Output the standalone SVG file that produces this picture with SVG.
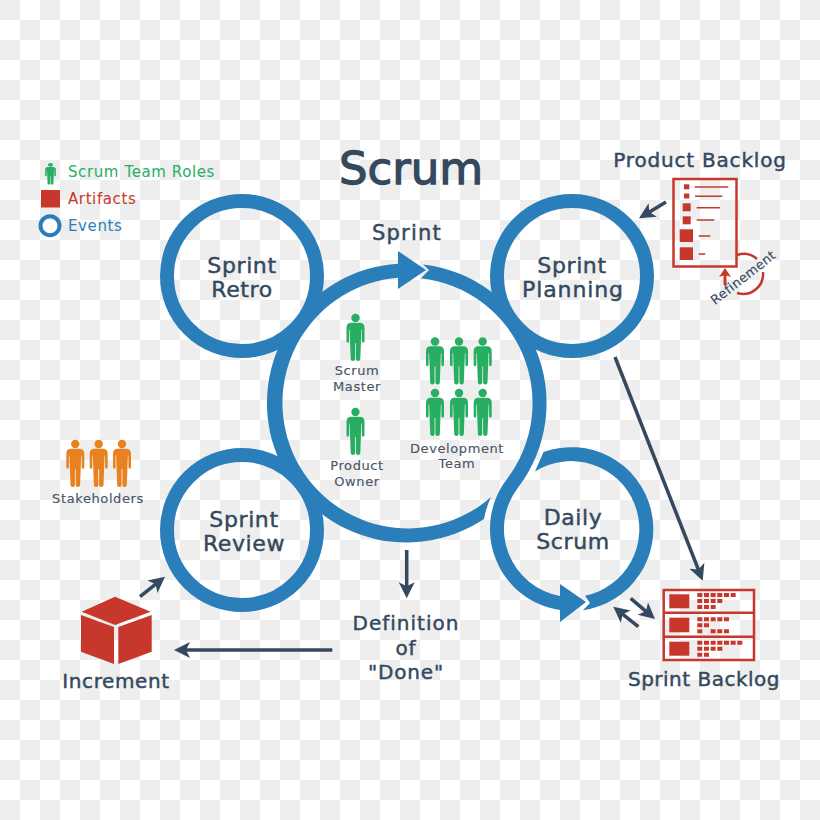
<svg xmlns="http://www.w3.org/2000/svg" width="820" height="820" viewBox="0 0 820 820">
<style>
text{font-family:"DejaVu Sans","Liberation Sans",sans-serif;text-anchor:middle;fill:#34495e;stroke:#34495e;stroke-width:.45px}
.lg{font-size:22px;letter-spacing:.6px}
.md{font-size:20px;letter-spacing:.8px}
.sm{font-size:13px;letter-spacing:.6px;fill:#4a5568;stroke:#4a5568;stroke-width:.15px}
.leg{font-size:15px;text-anchor:start;letter-spacing:.6px;stroke:none}
.ring{fill:none;stroke:#2a7fba;stroke-width:14}
.blue{fill:#2a7fba}
.red{fill:#c8372b}
.rl{stroke:#c8372b;fill:none;stroke-width:2.5}
.sq{stroke:#c8372b;stroke-width:4;stroke-dasharray:5 1.67}
.ar{stroke:#34495e;stroke-width:3.5;fill:none;marker-end:url(#ah)}
.g{fill:#27ae60}
.o{fill:#e8811f}
</style>
<defs>
<pattern id="chk" width="40" height="40" patternUnits="userSpaceOnUse">
<rect width="40" height="40" fill="#fff"/>
<rect width="20" height="20" fill="#eee"/>
<rect x="20" y="20" width="20" height="20" fill="#eee"/>
</pattern>
<marker id="ah" markerUnits="userSpaceOnUse" markerWidth="18" markerHeight="18" refX="11" refY="8" orient="auto" overflow="visible">
<path d="M0,0 L16,8 L0,16 L4,8 Z" fill="#34495e"/>
</marker>
<g id="p">
<circle cx="0" cy="4" r="4.2"/>
<path d="M-5 8.8H5Q9 9 9 14V27Q9 28.8 7.7 28.8Q6.4 28.8 6.4 27V15.5H5.9L4.8 45Q4.8 47 2.6 47Q.4 47 .4 45V29H-.4V45Q-.4 47-2.6 47Q-4.8 47-4.8 45L-5.9 15.5H-6.4V27Q-6.4 28.8-7.7 28.8Q-9 28.8-9 27V14Q-9 9-5 8.8Z"/>
</g>
</defs>
<rect width="820" height="820" fill="url(#chk)"/>
<text x="411" y="184" font-size="45" style="stroke-width:1.3px">Scrum</text>

<g id="legend">
<use href="#p" class="g" transform="translate(50.5,163) scale(.6,.46)"/>
<rect x="41" y="190" width="19" height="17.5" class="red"/>
<circle cx="50" cy="225.7" r="9.5" fill="none" stroke="#2a7fba" stroke-width="4"/>
<text x="68" y="177" class="leg" style="fill:#27ae60">Scrum Team Roles</text>
<text x="68" y="204" class="leg" style="fill:#c8372b">Artifacts</text>
<text x="68" y="231" class="leg" style="fill:#2a7fba">Events</text>
</g>

<g id="sprint">
<path class="blue" d="M491 497A88 88 0 0 0 484 519A139.5 139.5 0 1 1 398 263.8L398 251L426 270L398 289L398 277.8A125.5 125.5 0 1 0 491 497Z"/>
<path class="blue" d="M423 264.4A139.5 139.5 0 0 1 517.9 487.7A68 68 0 0 0 560 595.9L560 584L586 602L560 622L560 610.1A82 82 0 0 1 506.8 479.2A125.5 125.5 0 0 0 421 278.3L429 270Z"/>
<text x="407" y="240" class="md" style="font-size:21px;letter-spacing:1.2px">Sprint</text>
</g>

<g id="sprint-retro">
<circle cx="242" cy="276" r="75" class="ring"/>
<text x="242" y="273" class="lg">Sprint</text>
<text x="242" y="297" class="lg">Retro</text>
</g>
<g id="sprint-planning">
<circle cx="572" cy="276" r="75" class="ring"/>
<text x="572" y="273" class="lg">Sprint</text>
<text x="573" y="297" class="lg" style="letter-spacing:.9px">Planning</text>
</g>
<g id="sprint-review">
<circle cx="242" cy="530" r="75" class="ring"/>
<text x="244" y="527" class="lg">Sprint</text>
<text x="244" y="551" class="lg">Review</text>
</g>
<g id="daily-scrum">
<path class="blue" d="M543.5 452A82 82 0 1 1 583 610.3L590 603L585 595.7A68 68 0 1 0 535 471.6Z"/>
<text x="573" y="525" class="lg">Daily</text>
<text x="573" y="549" class="lg">Scrum</text>
</g>

<g id="scrum-master">
<use href="#p" class="g" transform="translate(355.5,314)"/>
<text x="357" y="375" class="sm">Scrum</text>
<text x="357" y="391" class="sm">Master</text>
</g>
<g id="product-owner">
<use href="#p" class="g" transform="translate(355.5,408)"/>
<text x="357" y="470" class="sm">Product</text>
<text x="357" y="486" class="sm">Owner</text>
</g>
<g id="development-team">
<use href="#p" class="g" transform="translate(435,337.5)"/>
<use href="#p" class="g" transform="translate(459,337.5)"/>
<use href="#p" class="g" transform="translate(482.7,337.5)"/>
<use href="#p" class="g" transform="translate(435,389)"/>
<use href="#p" class="g" transform="translate(459,389)"/>
<use href="#p" class="g" transform="translate(482.7,389)"/>
<text x="457" y="453" class="sm">Development</text>
<text x="457" y="468" class="sm">Team</text>
</g>
<g id="stakeholders">
<use href="#p" class="o" transform="translate(75.3,440)"/>
<use href="#p" class="o" transform="translate(98.7,440)"/>
<use href="#p" class="o" transform="translate(122,440)"/>
<text x="98" y="503" class="sm">Stakeholders</text>
</g>

<g id="product-backlog">
<rect x="673.5" y="179" width="63" height="87.5" class="rl"/>
<rect x="684" y="184.3" width="5.3" height="5" class="red"/>
<rect x="684" y="193.5" width="5.3" height="5" class="red"/>
<rect x="682.7" y="203.3" width="8" height="8" class="red"/>
<rect x="682.7" y="216.3" width="8" height="8" class="red"/>
<rect x="679.7" y="229.3" width="13.3" height="12.7" class="red"/>
<rect x="679.7" y="247.3" width="13.3" height="12.7" class="red"/>
<path stroke="#c8372b" stroke-width="1.5" fill="none" d="M694.7 187H728.3M695 196.3H722.3M696.7 207.7H720M696.7 220H714.3M698.7 236H710.3M698.7 254H705.3"/>
<path class="rl" d="M737 255A20 20 0 0 1 757 259M763 272A20 20 0 0 1 737 293"/>
<path class="red" d="M725 268L731 277L726.5 275.5V285H723.5V275.5L719 277Z"/>
<text transform="translate(746,281) rotate(-38)" font-size="13" style="letter-spacing:.35px;stroke-width:.15px">Refinement</text>
<text x="700" y="167" class="md">Product Backlog</text>
</g>

<g id="sprint-backlog">
<rect x="663.7" y="590" width="90.3" height="70" class="rl"/>
<path class="rl" d="M663.7 612.7H754M663.7 636.7H754"/>
<rect x="669.3" y="594.3" width="20" height="14" class="red"/>
<rect x="669.3" y="617.7" width="20" height="14.6" class="red"/>
<rect x="669.3" y="641.7" width="20" height="14" class="red"/>
<line x1="697.3" y1="595" x2="735.7" y2="595" class="sq"/>
<line x1="697.3" y1="601" x2="722.3" y2="601" class="sq"/>
<line x1="697.3" y1="607" x2="715.7" y2="607" class="sq"/>
<line x1="697.3" y1="619.3" x2="729" y2="619.3" class="sq"/>
<line x1="697.3" y1="625.3" x2="709" y2="625.3" class="sq"/>
<line x1="697.3" y1="631.3" x2="702.3" y2="631.3" class="sq"/>
<line x1="710.6" y1="631.3" x2="729" y2="631.3" class="sq"/>
<line x1="697.3" y1="642.7" x2="742.4" y2="642.7" class="sq"/>
<line x1="697.3" y1="648.7" x2="722.3" y2="648.7" class="sq"/>
<line x1="697.3" y1="654.7" x2="709" y2="654.7" class="sq"/>
<text x="704" y="686" class="md" style="letter-spacing:.5px">Sprint Backlog</text>
</g>

<g id="increment">
<path class="red" d="M115 596.7L150.7 611.7L115 625L81.7 611.7Z"/>
<path class="red" d="M81 615L114 627V664L81 651.7Z"/>
<path class="red" d="M118.3 627L151.7 615V651.7L118.3 664Z"/>
<text x="116" y="688" class="md" style="letter-spacing:.6px">Increment</text>
</g>

<g id="definition-of-done">
<text x="406" y="630" class="md" style="letter-spacing:1px">Definition</text>
<text x="406" y="655" class="md">of</text>
<text x="406" y="679" class="md">"Done"</text>
</g>

<g id="connectors">
<line x1="666" y1="202" x2="643.3" y2="215.7" class="ar"/>
<line x1="615" y1="357" x2="700.9" y2="576" class="ar"/>
<line x1="630.7" y1="598.3" x2="651.2" y2="615.8" class="ar"/>
<line x1="638.3" y1="626.7" x2="617.2" y2="609.8" class="ar"/>
<line x1="406.7" y1="550" x2="406.7" y2="593.3" class="ar"/>
<line x1="332.3" y1="650" x2="179" y2="650" class="ar"/>
<line x1="140" y1="596.7" x2="161.1" y2="579.8" class="ar"/>
</g>
</svg>
